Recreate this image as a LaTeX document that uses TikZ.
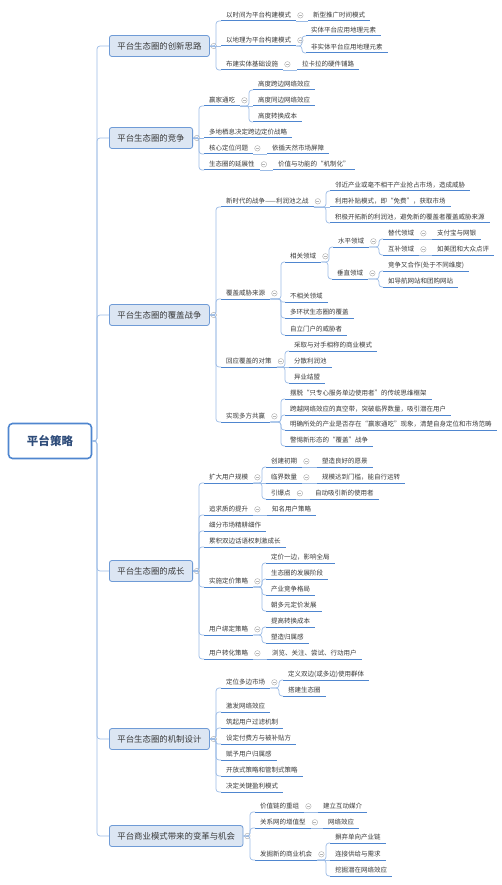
\documentclass[tikz,border=0pt]{standalone}
\usepackage{fontspec}
\setmainfont{Noto Sans CJK SC}
\usetikzlibrary{positioning}
\definecolor{tinta}{HTML}{3A3A3A}
\definecolor{azul}{HTML}{4F86CF}
\definecolor{celeste}{HTML}{9CBCE6}
\definecolor{caja}{HTML}{DCE6F3}
\definecolor{borde}{HTML}{6F9BD6}
\definecolor{marino}{HTML}{2E4C7A}
\definecolor{gris}{HTML}{B4B4B4}

\begin{document}
\begin{tikzpicture}[x=1pt, y=-1pt, label distance=1pt,
    tog/.style={circle, draw=gris, line width=0.5pt, inner sep=0pt, minimum size=5.5pt,
      path picture={\draw[gris, line width=0.5pt] ([xshift=-1.5pt]path picture bounding box.center) -- ([xshift=1.5pt]path picture bounding box.center);}},
    fold/.style={label={[tog]right:{}}},
    subrayado/.style={draw=azul, line width=1pt},
    hoja/.style={anchor=south west, inner xsep=5pt, inner ysep=2.4pt, text height=5.2pt, text depth=1pt,
      text=tinta, font=\fontsize{6.5}{7}\selectfont,
      append after command={(\tikzlastnode.south west) edge[subrayado] (\tikzlastnode.south east)}},
    tema/.style={anchor=west, draw=borde, fill=caja, line width=0.8pt, rounded corners=2.5pt,
      minimum height=21pt, inner xsep=8pt, text=tinta, font=\fontsize{8.4}{10}\selectfont, fold},
    raiz/.style={draw=azul, line width=1.6pt, fill=white, rounded corners=4pt, minimum width=83pt,
      minimum height=35pt, text=marino, font=\fontsize{11.5}{13}\selectfont\bfseries},
    link/.style={draw=celeste, line width=0.7pt, rounded corners=3pt,
      to path={-| ([xshift=-#1]\tikztotarget) -- (\tikztotarget)}},
    link/.default=4pt,
    recto/.style={draw=celeste, line width=0.7pt}]
  \useasboundingbox (0,0) rectangle (501,885);

  \node[raiz] (root) at (50,441) {平台策略};

  % 创新思路
  \node[tema] (m1) at (109,46) {平台生态圈的创新思路};
  \node[hoja, fold] (a1) at (221,21) {以时间为平台构建模式};
  \node[hoja] (a11) at (308,21) {新型推广时间模式};
  \node[hoja, fold] (a2) at (221,46) {以地理为平台构建模式};
  \node[hoja] (a21) at (306,36) {实体平台应用地理元素};
  \node[hoja] (a22) at (306,53) {非实体平台应用地理元素};
  \node[hoja, fold] (a3) at (221,70) {布建实体基础设施};
  \node[hoja] (a31) at (297,70) {拉卡拉的硬件铺路};

  % 竞争
  \node[tema] (m2) at (109,138) {平台生态圈的竞争};
  \node[hoja, fold] (b1) at (204,106) {赢家通吃};
  \node[hoja] (b11) at (253,90) {高度跨边网络效应};
  \node[hoja] (b12) at (253,106) {高度同边网络效应};
  \node[hoja] (b13) at (253,122) {高度转换成本};
  \node[hoja] (b2) at (204,138) {多地栖息决定跨边定价战略};
  \node[hoja, fold] (b3) at (204,154) {核心定位问题};
  \node[hoja] (b31) at (267,154) {依循天然市场屏障};
  \node[hoja, fold] (b4) at (204,170) {生态圈的延展性};
  \node[hoja] (b41) at (273,170) {价值与功能的“机制化”};

  % 覆盖战争
  \node[tema] (m3) at (109,315) {平台生态圈的覆盖战争};
  \node[hoja, fold] (c1) at (221,207) {新时代的战争——利润池之战};
  \node[hoja] (c11) at (330,191) {邻近产业或毫不相干产业抢占市场，造成威胁};
  \node[hoja] (c12) at (330,207) {利用补贴模式，即“免费”，获取市场};
  \node[hoja] (c13) at (330,223) {积极开拓新的利润池，避免新的覆盖者覆盖威胁来源};
  \node[hoja, fold] (c2) at (221,299) {覆盖威胁来源};
  \node[hoja, fold] (c21) at (285,262) {相关领域};
  \node[hoja, fold] (c211) at (333,247) {水平领域};
  \node[hoja, fold] (c2111) at (383,239) {替代领域};
  \node[hoja] (c21111) at (432,239) {支付宝与网银};
  \node[hoja, fold] (c2112) at (383,255) {互补领域};
  \node[hoja] (c21121) at (432,255) {如美团和大众点评};
  \node[hoja, fold] (c212) at (332,279) {垂直领域};
  \node[hoja] (c2121) at (383,271) {竞争又合作(处于不同维度)};
  \node[hoja] (c2122) at (383,287) {如导航网站和团购网站};
  \node[hoja] (c22) at (285,302) {不相关领域};
  \node[hoja] (c23) at (285,318) {多环状生态圈的覆盖};
  \node[hoja] (c24) at (285,335) {自立门户的威胁者};
  \node[hoja, fold] (c3) at (221,367) {回应覆盖的对策};
  \node[hoja] (c31) at (289,351) {采取与对手相称的商业模式};
  \node[hoja] (c32) at (289,367) {分散利润池};
  \node[hoja] (c33) at (289,383) {异业结盟};
  \node[hoja, fold] (c4) at (221,422) {实现多方共赢};
  \node[hoja] (c41) at (285,399) {摆脱“只专心服务单边使用者”的传统思维框架};
  \node[hoja] (c42) at (285,415) {跨越网络效应的真空带，突破临界数量，吸引潜在用户};
  \node[hoja] (c43) at (285,430) {明确所处的产业是否存在“赢家通吃”现象，清楚自身定位和市场范畴};
  \node[hoja] (c44) at (285,446) {警惕新形态的“覆盖”战争};

  % 成长
  \node[tema] (m4) at (109,571) {平台生态圈的成长};
  \node[hoja, fold] (d1) at (204,483) {扩大用户规模};
  \node[hoja, fold] (d11) at (266,467) {创建初期};
  \node[hoja] (d111) at (317,467) {塑造良好的愿景};
  \node[hoja, fold] (d12) at (266,483) {临界数量};
  \node[hoja] (d121) at (317,483) {规模达到门槛，能自行运转};
  \node[hoja, fold] (d13) at (266,499) {引爆点};
  \node[hoja] (d131) at (310,499) {自动吸引新的使用者};
  \node[hoja, fold] (d2) at (204,515) {追求质的提升};
  \node[hoja] (d21) at (267,515) {知名用户策略};
  \node[hoja] (d3) at (204,531) {细分市场精耕细作};
  \node[hoja] (d4) at (204,547) {累积双边话语权刺激成长};
  \node[hoja, fold] (d5) at (204,587) {实施定价策略};
  \node[hoja] (d51) at (266,563) {定价一边，影响全局};
  \node[hoja] (d52) at (266,579) {生态圈的发展阶段};
  \node[hoja] (d53) at (266,595) {产业竞争格局};
  \node[hoja] (d54) at (266,611) {朝多元定价发展};
  \node[hoja, fold] (d6) at (204,635) {用户绑定策略};
  \node[hoja] (d61) at (266,627) {提高转换成本};
  \node[hoja] (d62) at (266,643) {塑造归属感};
  \node[hoja, fold] (d7) at (204,659) {用户转化策略};
  \node[hoja] (d71) at (267,659) {浏览、关注、尝试、行动用户};

  % 机制设计
  \node[tema] (m5) at (109,739) {平台生态圈的机制设计};
  \node[hoja, fold] (e1) at (221,688) {定位多边市场};
  \node[hoja] (e11) at (283,680) {定义双边(或多边)使用群体};
  \node[hoja] (e12) at (283,696) {搭建生态圈};
  \node[hoja] (e2) at (221,712) {激发网络效应};
  \node[hoja] (e3) at (221,728) {筑起用户过滤机制};
  \node[hoja] (e4) at (221,744) {设定付费方与被补贴方};
  \node[hoja] (e5) at (221,760) {赋予用户归属感};
  \node[hoja] (e6) at (221,776) {开放式策略和管制式策略};
  \node[hoja] (e7) at (221,792) {决定关键盈利模式};

  % 变革与机会
  \node[tema] (m6) at (109,836) {平台商业模式带来的变革与机会};
  \node[hoja, fold] (f1) at (255,812) {价值链的重组};
  \node[hoja] (f11) at (318,812) {建立互动媒介};
  \node[hoja, fold] (f2) at (255,828) {关系网的增值型};
  \node[hoja] (f21) at (323,828) {网络效应};
  \node[hoja, fold] (f3) at (255,860) {发掘新的商业机会};
  \node[hoja] (f31) at (330,843) {摒弃单向产业链};
  \node[hoja] (f32) at (330,860) {连接供给与需求};
  \node[hoja] (f33) at (330,876) {挖掘潜在网络效应};

  % conectores
  \path (root.east) edge[link=12pt] (m1.west) edge[link=12pt] (m2.west) edge[link=12pt] (m3.west)
    edge[link=12pt] (m4.west) edge[link=12pt] (m5.west) edge[link=12pt] (m6.west);

  \path (m1.east) edge[link=5pt] (a1.south west) edge[recto] (a2.south west) edge[link=5pt] (a3.south west);
  \path (a1.south east) edge[recto] (a11.south west);
  \path (a2.south east) edge[link] (a21.south west) edge[link] (a22.south west);
  \path (a3.south east) edge[recto] (a31.south west);

  \path (m2.east) edge[link=5pt] (b1.south west) edge[recto] (b2.south west)
    edge[link=5pt] (b3.south west) edge[link=5pt] (b4.south west);
  \path (b1.south east) edge[link] (b11.south west) edge[recto] (b12.south west) edge[link] (b13.south west);
  \path (b3.south east) edge[recto] (b31.south west);
  \path (b4.south east) edge[recto] (b41.south west);

  \path (m3.east) edge[link=5pt] (c1.south west) edge[link=5pt] (c2.south west)
    edge[link=5pt] (c3.south west) edge[link=5pt] (c4.south west);
  \path (c1.south east) edge[link] (c11.south west) edge[recto] (c12.south west) edge[link] (c13.south west);
  \path (c2.south east) edge[link] (c21.south west) edge[link, rounded corners=1.5pt] (c22.south west)
    edge[link] (c23.south west) edge[link] (c24.south west);
  \path (c21.south east) edge[link] (c211.south west) edge[link] (c212.south west);
  \path (c211.south east) edge[link] (c2111.south west) edge[link] (c2112.south west);
  \path (c2111.south east) edge[recto] (c21111.south west);
  \path (c2112.south east) edge[recto] (c21121.south west);
  \path (c212.south east) edge[link] (c2121.south west) edge[link] (c2122.south west);
  \path (c3.south east) edge[link] (c31.south west) edge[recto] (c32.south west) edge[link] (c33.south west);
  \path (c4.south east) edge[link] (c41.south west) edge[link] (c42.south west)
    edge[link] (c43.south west) edge[link] (c44.south west);

  \path (m4.east) edge[link=5pt] (d1.south west) edge[link=5pt] (d2.south west) edge[link=5pt] (d3.south west)
    edge[link=5pt] (d4.south west) edge[link=5pt] (d5.south west) edge[link=5pt] (d6.south west)
    edge[link=5pt] (d7.south west);
  \path (d1.south east) edge[link] (d11.south west) edge[recto] (d12.south west) edge[link] (d13.south west);
  \path (d11.south east) edge[recto] (d111.south west);
  \path (d12.south east) edge[recto] (d121.south west);
  \path (d13.south east) edge[recto] (d131.south west);
  \path (d2.south east) edge[recto] (d21.south west);
  \path (d5.south east) edge[link] (d51.south west) edge[link] (d52.south west)
    edge[link] (d53.south west) edge[link] (d54.south west);
  \path (d6.south east) edge[link] (d61.south west) edge[link] (d62.south west);
  \path (d7.south east) edge[recto] (d71.south west);

  \path (m5.east) edge[link=5pt] (e1.south west) edge[link=5pt] (e2.south west) edge[link=5pt] (e3.south west)
    edge[link=5pt, rounded corners=2pt] (e4.south west) edge[link=5pt] (e5.south west)
    edge[link=5pt] (e6.south west) edge[link=5pt] (e7.south west);
  \path (e1.south east) edge[link] (e11.south west) edge[link] (e12.south west);

  \path (m6.east) edge[link=5pt] (f1.south west) edge[link=5pt] (f2.south west) edge[link=5pt] (f3.south west);
  \path (f1.south east) edge[recto] (f11.south west);
  \path (f2.south east) edge[recto] (f21.south west);
  \path (f3.south east) edge[link] (f31.south west) edge[recto] (f32.south west) edge[link] (f33.south west);
\end{tikzpicture}
\end{document}
